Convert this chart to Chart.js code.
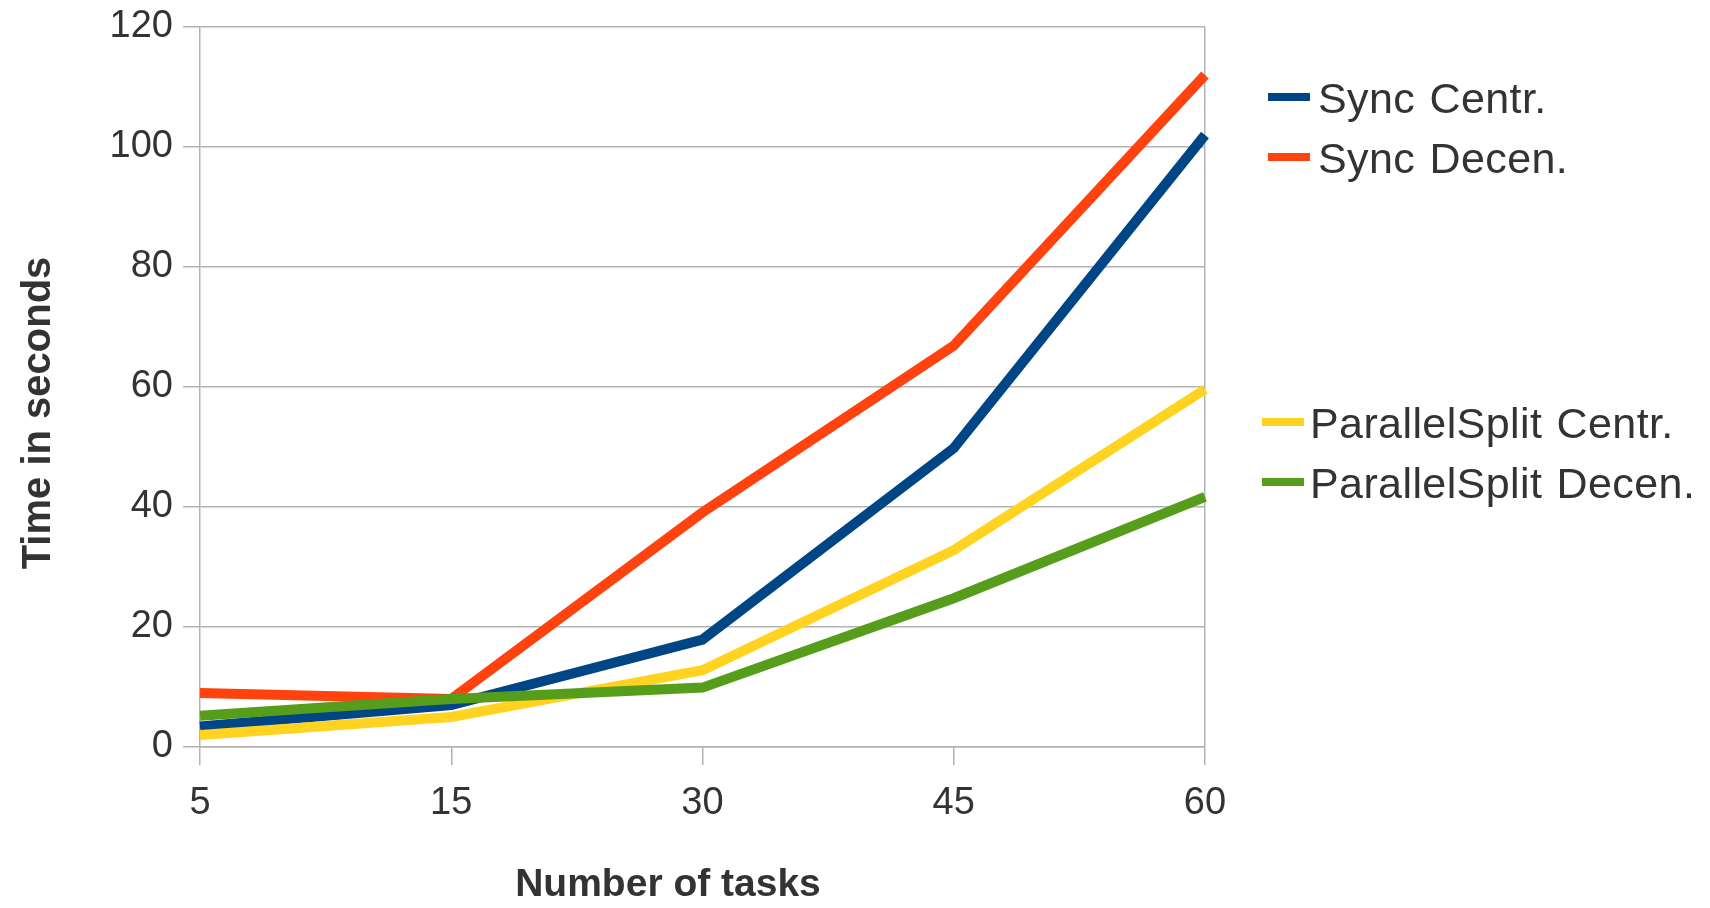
<!DOCTYPE html>
<html>
<head>
<meta charset="utf-8">
<title>Time in seconds vs. number of tasks</title>
<script src="https://cdn.jsdelivr.net/npm/chart.js@4.4.1/dist/chart.umd.min.js"></script>
<style>
  html, body { margin: 0; padding: 0; background: #ffffff; }
  #wrap { width: 1710px; height: 908px; }
</style>
</head>
<body>
<div id="wrap"><canvas id="chart" width="1710" height="908"></canvas></div>
<script>
// Number of tasks (category axis, evenly spaced)
const taskCounts = ['5', '15', '30', '45', '60'];

// Time in seconds per scenario
const syncCentr = [3.4, 7, 17.9, 49.8, 102];
const syncDecen = [9, 8, 39.1, 66.9, 112];
const parallelSplitCentr = [2, 5, 12.8, 32.8, 59.6];
const parallelSplitDecen = [5.2, 8, 9.9, 24.8, 41.7];

const seriesNames = ['Sync Centr.', 'Sync Decen.', 'ParallelSplit Centr.', 'ParallelSplit Decen.'];
const seriesColors = ['#004586', '#ff420e', '#ffd320', '#579d1c'];

const yTicks = { min: 0, max: 120, step: 20 };

const xTitle = 'Number of tasks';
const yTitle = 'Time in seconds';

const GRID = '#b3b3b3';
const TEXT = '#333333';
const FONT = "'Liberation Sans', Arial, sans-serif";

// Axis titles and a two-group legend on the right
const decorations = {
  id: 'decorations',
  afterDraw(chart) {
    const ctx = chart.ctx;
    ctx.save();
    ctx.fillStyle = TEXT;
    ctx.font = 'bold 39px ' + FONT;
    ctx.textAlign = 'center';
    ctx.textBaseline = 'middle';
    ctx.fillText(xTitle, 668, 885);

    ctx.save();
    ctx.translate(39, 413);
    ctx.rotate(-Math.PI / 2);
    ctx.font = 'bold 40px ' + FONT;
    ctx.fillText(yTitle, 0, 0);
    ctx.restore();

    const slots = [
      { x: 1268, y: 97, tx: 1318 },
      { x: 1268, y: 157, tx: 1318 },
      { x: 1262, y: 422, tx: 1310 },
      { x: 1262, y: 482, tx: 1310 }
    ];
    ctx.font = '43px ' + FONT;
    ctx.textAlign = 'left';
    if ('wordSpacing' in ctx) ctx.wordSpacing = '2px';
    if ('letterSpacing' in ctx) ctx.letterSpacing = '0.4px';
    chart.data.datasets.forEach((ds, i) => {
      const s = slots[i];
      ctx.strokeStyle = ds.borderColor;
      ctx.lineWidth = 8;
      ctx.lineCap = 'butt';
      ctx.beginPath();
      ctx.moveTo(s.x, s.y);
      ctx.lineTo(s.x + 42, s.y);
      ctx.stroke();
      ctx.fillStyle = TEXT;
      ctx.fillText(ds.label, s.tx, s.y + 4);
    });
    ctx.restore();
  }
};

const values = [syncCentr, syncDecen, parallelSplitCentr, parallelSplitDecen];
// later series are painted on top of earlier ones
const drawOrder = [3, 2, 1, 0];

new Chart(document.getElementById('chart'), {
  type: 'line',
  data: {
    labels: taskCounts,
    datasets: values.map((v, i) => ({
      label: seriesNames[i],
      data: v,
      borderColor: seriesColors[i],
      backgroundColor: seriesColors[i],
      borderWidth: 10,
      pointRadius: 0,
      pointHoverRadius: 0,
      tension: 0,
      fill: false,
      order: drawOrder[i]
    }))
  },
  options: {
    responsive: false,
    animation: false,
    events: [],
    layout: { padding: { left: 0, top: 27, right: 505, bottom: 0 } },
    plugins: {
      legend: { display: false },
      tooltip: { enabled: false },
      title: { display: false }
    },
    scales: {
      x: {
        type: 'category',
        offset: false,
        afterFit(scale) { scale.height = 161; },
        grid: {
          color: (c) => (c.index === taskCounts.length - 1 ? GRID : 'rgba(0,0,0,0)'),
          tickColor: GRID,
          tickLength: 18,
          lineWidth: 1.5,
          drawOnChartArea: true
        },
        border: { display: true, color: GRID, width: 1.5 },
        ticks: {
          color: TEXT,
          font: { family: FONT, size: 38 },
          padding: 16,
          maxRotation: 0,
          autoSkip: false
        }
      },
      y: {
        min: yTicks.min,
        max: yTicks.max,
        afterFit(scale) {
          scale.width = 200;
          // the top label may overhang into the layout padding
          scale.paddingTop = 0;
        },
        grid: {
          color: GRID,
          tickColor: GRID,
          tickLength: 17,
          lineWidth: 1.5
        },
        border: { display: true, color: GRID, width: 1.5 },
        ticks: {
          stepSize: yTicks.step,
          color: TEXT,
          font: { family: FONT, size: 38 },
          padding: 10
        }
      }
    }
  },
  plugins: [decorations]
});
</script>
</body>
</html>
